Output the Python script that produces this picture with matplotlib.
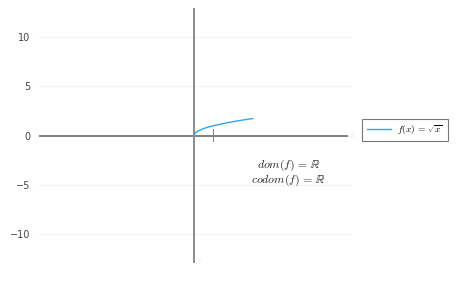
import matplotlib
matplotlib.use("Agg")
import matplotlib.pyplot as plt

plt.rcParams['mathtext.fontset'] = 'cm'

x_vals = [0, 0.02, 0.05, 0.1, 0.2, 0.35, 0.5, 0.75, 1.0, 1.5, 2.0, 2.5, 3.0]
y_vals = [0, 0.14, 0.22, 0.32, 0.45, 0.59, 0.71, 0.87, 1.0, 1.22, 1.41, 1.58, 1.73]
y_ticks = [-10, -5, 0, 5, 10]
y_labels = ['\u221210', '\u22125', '0', '5', '10']
x_ticks = [1]
x_range = (-7.92, 8.08)
y_range = (-13, 13)

W, H = 474, 284
fig = plt.figure(figsize=(W / 100, H / 100), dpi=100)
ax = fig.add_axes([39 / W, (H - 263) / H, (352 - 39) / W, (263 - 8) / H])

for s in ax.spines.values():
    s.set_visible(False)

ax.set_xlim(*x_range)
ax.set_ylim(*y_range)

# faint grid
for yt in y_ticks:
    ax.axhline(yt, color='#f2f2f2', lw=0.8, zorder=0)

# axes through origin
ax.plot([x_range[0], 7.85], [0, 0], color='#7f7f7f', lw=1.4, zorder=1,
        solid_capstyle='butt')
ax.axvline(0, color='#8a8a8a', lw=1.4, zorder=1)

# small tick on x axis
for xt in x_ticks:
    ax.plot([xt, xt], [-0.6, 0.7], color='#7f7f7f', lw=0.7, zorder=1)

# very faint axis names
ax.text(7.95, 0, 'x', fontsize=6, color='#eeeeee', ha='left', va='center')
ax.text(0.15, -12.6, 'y', fontsize=6, color='#eeeeee', ha='left', va='center')

ax.plot(x_vals, y_vals, color='#2aa6f5', lw=1.0, zorder=3,
        label=r'$f(x)\,=\,\sqrt{x}$')

ax.set_xticks([])
ax.set_yticks(y_ticks)
ax.set_yticklabels(y_labels)
ax.tick_params(axis='y', length=0, pad=6, labelsize=7, labelcolor='#444444')

ax.text(4.85, -3.0, r'$dom(f)\,=\,\mathbb{R}$', ha='center', va='center',
        fontsize=8.5, color='#222222')
ax.text(4.85, -4.6, r'$codom(f)\,=\,\mathbb{R}$', ha='center', va='center',
        fontsize=8.5, color='#222222')

leg = ax.legend(loc='center left', bbox_to_anchor=(362 / W, (H - 130) / H),
                bbox_transform=fig.transFigure, fontsize=6.8, frameon=True,
                fancybox=False, handlelength=2.6, borderpad=0.5,
                handletextpad=0.6, borderaxespad=0)
leg.get_frame().set_edgecolor('#555555')
leg.get_frame().set_linewidth(0.8)

fig.savefig('out.png', dpi=100)
